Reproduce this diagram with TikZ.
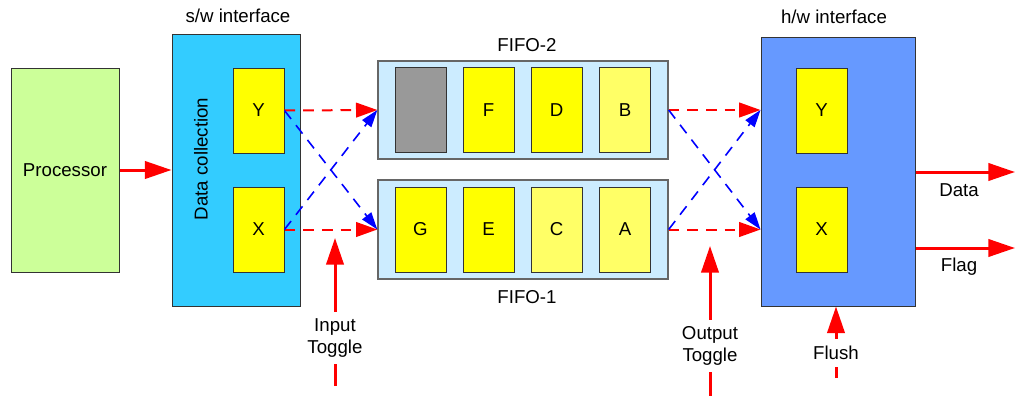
\documentclass[tikz,border=0pt]{standalone}
\usepackage{fontspec}
\setmainfont{Liberation Sans}
\usetikzlibrary{arrows.meta}
\definecolor{procg}{HTML}{CCFF99}
\definecolor{swb}{HTML}{33CCFF}
\definecolor{hwb}{HTML}{6699FF}
\definecolor{fifob}{HTML}{CCECFF}
\definecolor{cellY}{HTML}{FFFF00}
\definecolor{cellL}{HTML}{FFFF66}
\definecolor{cellG}{HTML}{999999}
\definecolor{redc}{HTML}{FF0000}
\definecolor{bluec}{HTML}{0000FF}
\begin{document}
\begin{tikzpicture}[x=0.75pt,y=-0.75pt,
  every node/.style={font=\fontsize{14}{16.5}\selectfont, text=black},
  blk/.style={draw=black!80, line width=0.75pt, inner sep=0pt},
  fifo/.style={draw=black!60, line width=1pt, fill=fifob, minimum width=217.5pt, minimum height=73.5pt, inner sep=0pt},
  cell/.style={draw=black!80, line width=0.75pt, minimum width=38.25pt, minimum height=63.75pt, inner sep=0pt},
  reg/.style={cell, fill=cellY},
  lbl/.style={inner sep=0pt},
  solidarrow/.style={draw=redc, line width=2.25pt, -{Triangle[length=20pt,width=13pt]}},
  rdash/.style={draw=redc, line width=1.5pt, dash pattern=on 8pt off 6pt, -{Triangle[length=16pt,width=11pt]}},
  bdash/.style={draw=bluec, line width=1.2pt, dash pattern=on 8pt off 6pt, -{Triangle[length=13pt,width=8.5pt]}},
  gaplbl/.style={fill=white, align=center, inner xsep=2pt, inner ysep=5pt}
]
\useasboundingbox (0,0) rectangle (1015,396);

% main blocks
\node[blk, fill=procg, minimum width=81pt, minimum height=153pt] (proc) at (65,170) {Processor};
\node[blk, fill=swb, minimum width=96pt, minimum height=204pt] (sw) at (236,170) {};
\node[lbl, rotate=90] (dc) at (201,159) {Data collection};
\node[reg] (swY) at (258.5,110.5) {Y};
\node[reg] (swX) at (258.5,229.5) {X};
\node[lbl] (swlbl) at (238,16) {s/w interface};

% FIFOs
\node[fifo] (f2) at (523,110) {};
\node[fifo, minimum height=74.25pt] (f1) at (523,229.5) {};
\node[lbl] (f2lbl) at (527,45) {FIFO-2};
\node[lbl] (f1lbl) at (527,297) {FIFO-1};
\node[cell, fill=cellG] (c21) at (420.5,110) {};
\node[reg] (c22) at (488.5,110) {F};
\node[reg] (c23) at (556.5,110) {D};
\node[cell, fill=cellL] (c24) at (625,110) {B};
\node[reg] (c11) at (420.5,229.5) {G};
\node[reg] (c12) at (488.5,229.5) {E};
\node[cell, fill=cellL] (c13) at (556.5,229.5) {C};
\node[cell, fill=cellL] (c14) at (625,229.5) {A};

% h/w interface
\node[blk, fill=hwb, minimum width=115.5pt, minimum height=201.75pt] (hw) at (838,171.5) {};
\node[reg] (hwY) at (821.5,110.5) {Y};
\node[reg] (hwX) at (821.5,229.5) {X};
\node[lbl] (hwlbl) at (834,17) {h/w interface};

% processor -> sw
\draw[solidarrow] (proc.east) -- (sw.west |- proc.east);

% sw -> FIFOs
\draw[rdash] (swY.east) -- (f2.west);
\draw[rdash] (swX.east) -- (f1.west);
\draw[bdash] (swY.east) -- (f1.west);
\draw[bdash] (swX.east) -- (f2.west);

% FIFOs -> hw
\coordinate (hwin2) at (hw.west |- f2.east);
\coordinate (hwin1) at (hw.west |- f1.east);
\draw[rdash] (f2.east) -- (hwin2);
\draw[rdash] (f1.east) -- (hwin1);
\draw[bdash] (f2.east) -- (hwin1);
\draw[bdash] (f1.east) -- (hwin2);

% outputs
\coordinate (dataend) at (1015,172);
\coordinate (flagend) at (1015,248);
\draw[solidarrow] (hw.east |- dataend) -- (dataend);
\draw[solidarrow] (hw.east |- flagend) -- (flagend);
\node[lbl] (datalbl) at (959,190) {Data};
\node[lbl] (flaglbl) at (959,267) {Flag};

% toggles
\coordinate (inbot) at (335,386);
\coordinate (intop) at (335,238);
\draw[solidarrow] (inbot) -- (intop);
\node[gaplbl] (inlbl) at (335,338) {Input\\Toggle};

\coordinate (outbot) at (710,396);
\coordinate (outtop) at (710,246);
\draw[solidarrow] (outbot) -- (outtop);
\node[gaplbl] (outlbl) at (710,346) {Output\\Toggle};

\coordinate (flbot) at (836,378);
\draw[solidarrow] (flbot) -- (flbot |- hw.south);
\node[gaplbl] (fllbl) at (836,353) {Flush};
\end{tikzpicture}
\end{document}
